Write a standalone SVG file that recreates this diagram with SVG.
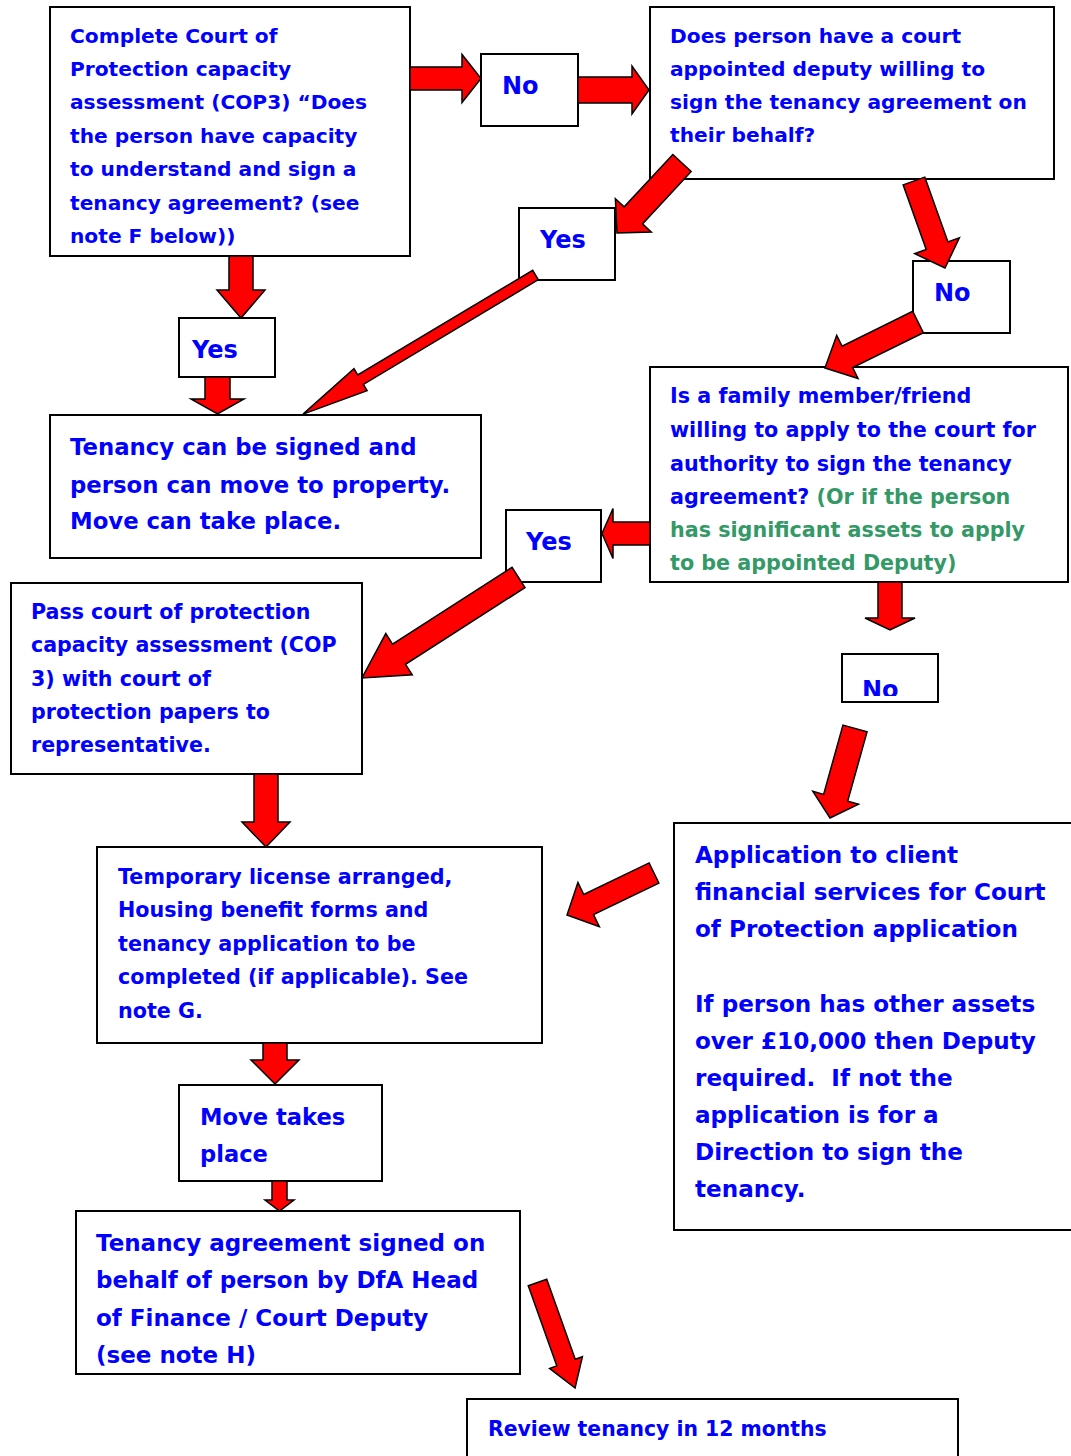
<svg xmlns="http://www.w3.org/2000/svg" width="1071" height="1456" viewBox="0 0 1071 1456">
  <style>
    .box { fill: #ffffff; stroke: #000000; stroke-width: 2; }
    .t { font-family: "DejaVu Sans", "Liberation Sans", sans-serif; font-weight: bold; fill: #0000ff; white-space: pre; }
    .g { fill: #339966; }
    .sA { font-size: 20.2px; }
    .sD { font-size: 20.7px; }
    .sE { font-size: 20.6px; }
    .sG { font-size: 20.7px; }
    .sC { font-size: 22.8px; }
    .sF { font-size: 23.1px; }
    .sI { font-size: 23px; }
    .sH { font-size: 22.6px; }
    .sJ { font-size: 20.4px; }
    .s24 { font-size: 24px; }
    .arr { fill: #ff0000; stroke: #000000; stroke-width: 1.5; stroke-linejoin: miter; }
  </style>
  <defs>
    <clipPath id="clipD"><rect x="650" y="367" width="420" height="207"/></clipPath>
    <clipPath id="clipNo3"><rect x="842" y="654" width="96" height="42"/></clipPath>
  </defs>
  <rect width="1071" height="1456" fill="#ffffff"/>

  <!-- capacity assessment -->
  <g id="capacity-assessment">
    <rect class="box" x="50" y="7" width="360" height="249"/>
    <text class="t sA">
      <tspan x="70" y="43">Complete Court of</tspan>
      <tspan x="70" y="76">Protection capacity</tspan>
      <tspan x="70" y="109">assessment (COP3) “Does</tspan>
      <tspan x="70" y="143">the person have capacity</tspan>
      <tspan x="70" y="176">to understand and sign a</tspan>
      <tspan x="70" y="210">tenancy agreement? (see</tspan>
      <tspan x="70" y="243">note F below))</tspan>
    </text>
  </g>

  <g id="no-capacity">
    <rect class="box" x="481" y="54" width="97" height="72"/>
    <text class="t s24" x="502" y="94">No</text>
  </g>

  <g id="court-deputy">
    <rect class="box" x="650" y="7" width="404" height="172"/>
    <text class="t sA">
      <tspan x="670" y="43">Does person have a court</tspan>
      <tspan x="670" y="76">appointed deputy willing to</tspan>
      <tspan x="670" y="109">sign the tenancy agreement on</tspan>
      <tspan x="670" y="142">their behalf?</tspan>
    </text>
  </g>

  <g id="yes-deputy">
    <rect class="box" x="519" y="208" width="96" height="72"/>
    <text class="t s24" x="540" y="248">Yes</text>
  </g>

  <g id="no-deputy">
    <rect class="box" x="913" y="261" width="97" height="72"/>
    <text class="t s24" x="934" y="301">No</text>
  </g>

  <g id="yes-capacity">
    <rect class="box" x="179" y="318" width="96" height="59"/>
    <text class="t s24" x="192" y="358">Yes</text>
  </g>

  <g id="tenancy-signed">
    <rect class="box" x="50" y="415" width="431" height="143"/>
    <text class="t sC">
      <tspan x="70" y="455">Tenancy can be signed and</tspan>
      <tspan x="70" y="493">person can move to property.</tspan>
      <tspan x="70" y="529">Move can take place.</tspan>
    </text>
  </g>

  <g id="family-member">
    <rect class="box" x="650" y="367" width="418" height="215"/>
    <text class="t sD" clip-path="url(#clipD)">
      <tspan x="670" y="403">Is a family member/friend</tspan>
      <tspan x="670" y="437">willing to apply to the court for</tspan>
      <tspan x="670" y="471">authority to sign the tenancy</tspan>
      <tspan x="670" y="504">agreement? <tspan class="g">(Or if the person</tspan></tspan>
      <tspan class="g" x="670" y="537">has significant assets to apply</tspan>
      <tspan class="g" x="670" y="570">to be appointed Deputy)</tspan>
    </text>
  </g>

  <g id="yes-family">
    <rect class="box" x="506" y="510" width="95" height="72"/>
    <text class="t s24" x="526" y="550">Yes</text>
  </g>

  <g id="pass-assessment">
    <rect class="box" x="11" y="583" width="351" height="191"/>
    <text class="t sE">
      <tspan x="31" y="619">Pass court of protection</tspan>
      <tspan x="31" y="652">capacity assessment (COP</tspan>
      <tspan x="31" y="686">3) with court of</tspan>
      <tspan x="31" y="719">protection papers to</tspan>
      <tspan x="31" y="752">representative.</tspan>
    </text>
  </g>

  <g id="no-family">
    <rect class="box" x="842" y="654" width="96" height="48"/>
    <text class="t s24" x="862" y="698" clip-path="url(#clipNo3)">No</text>
  </g>

  <g id="client-financial-services">
    <path class="box" d="M1072,823 H674 V1230 H1072"/>
    <text class="t sF">
      <tspan x="695" y="863">Application to client</tspan>
      <tspan x="695" y="900">financial services for Court</tspan>
      <tspan x="695" y="937">of Protection application</tspan>
      <tspan x="695" y="1012">If person has other assets</tspan>
      <tspan x="695" y="1049">over £10,000 then Deputy</tspan>
      <tspan x="695" y="1086">required.  If not the</tspan>
      <tspan x="695" y="1123">application is for a</tspan>
      <tspan x="695" y="1160">Direction to sign the</tspan>
      <tspan x="695" y="1197">tenancy.</tspan>
    </text>
  </g>

  <g id="temporary-license">
    <rect class="box" x="97" y="847" width="445" height="196"/>
    <text class="t sG">
      <tspan x="118" y="884">Temporary license arranged,</tspan>
      <tspan x="118" y="917">Housing benefit forms and</tspan>
      <tspan x="118" y="951">tenancy application to be</tspan>
      <tspan x="118" y="984">completed (if applicable). See</tspan>
      <tspan x="118" y="1018">note G.</tspan>
    </text>
  </g>

  <g id="move-takes-place">
    <rect class="box" x="179" y="1085" width="203" height="96"/>
    <text class="t sH">
      <tspan x="200" y="1125">Move takes</tspan>
      <tspan x="200" y="1162">place</tspan>
    </text>
  </g>

  <g id="agreement-signed">
    <rect class="box" x="76" y="1211" width="444" height="163"/>
    <text class="t sI">
      <tspan x="96" y="1251">Tenancy agreement signed on</tspan>
      <tspan x="96" y="1288">behalf of person by DfA Head</tspan>
      <tspan x="96" y="1326">of Finance / Court Deputy</tspan>
      <tspan x="96" y="1363">(see note H)</tspan>
    </text>
  </g>

  <g id="review-tenancy">
    <path class="box" d="M467,1458 V1399 H958 V1458"/>
    <text class="t sJ" x="488" y="1436">Review tenancy in 12 months</text>
  </g>

  <!-- block arrows between steps -->
  <g id="connectors">
    <polygon class="arr" points="410,67 462,67 462,54.5 481,78.5 462,102.5 462,90 410,90"/>
    <polygon class="arr" points="578,77 632,77 632,66 649,90 632,114 632,103 578,103"/>
    <polygon class="arr" transform="translate(682,163) rotate(132.9)" points="0,-12.5 71.5,-12.5 71.5,-24.5 95.5,0 71.5,24.5 71.5,12.5 0,12.5"/>
    <polygon class="arr" transform="translate(914,181) rotate(70.4)" points="0,-11.5 68.7,-11.5 68.7,-23.7 92.4,0 68.7,23.7 68.7,11.5 0,11.5"/>
    <polygon class="arr" transform="translate(918,322) rotate(153.7)" points="0,-12 78.8,-12 78.8,-24 103.8,0 78.8,24 78.8,12 0,12"/>
    <polygon class="arr" transform="translate(535.5,275) rotate(149.1)" points="0,-5.5 203.9,-5.5 203.9,-12.75 270.9,0 203.9,12.75 203.9,5.5 0,5.5"/>
    <polygon class="arr" points="229,256 253,256 253,290 265,290 241,318 217,290 229,290"/>
    <polygon class="arr" points="205,377 230,377 230,399 244,399 217.5,414 191,399 205,399"/>
    <polygon class="arr" points="650,522 613,522 613,508.5 602,533.5 613,558.5 613,545 650,545"/>
    <polygon class="arr" transform="translate(518.5,577.5) rotate(147.3)" points="0,-12 142,-12 142,-24.5 186,0 142,24.5 142,12 0,12"/>
    <polygon class="arr" points="878,582 902,582 902,618 915,618 890,630 865,618 878,618"/>
    <polygon class="arr" transform="translate(855,728.5) rotate(105.6)" points="0,-12.5 71.9,-12.5 71.9,-23.7 92.9,0 71.9,23.7 71.9,12.5 0,12.5"/>
    <polygon class="arr" transform="translate(654,873) rotate(154.2)" points="0,-11.2 72.6,-11.2 72.6,-24.6 96.6,0 72.6,24.6 72.6,11.2 0,11.2"/>
    <polygon class="arr" points="254,774 278,774 278,822 290,822 266,847 242,822 254,822"/>
    <polygon class="arr" points="263,1043 287,1043 287,1060 299,1060 275,1084 251,1060 263,1060"/>
    <polygon class="arr" points="272,1181 287,1181 287,1200 294,1200 279.5,1211 265,1200 272,1200"/>
    <polygon class="arr" transform="translate(537.5,1282.5) rotate(70.4)" points="0,-9.8 85,-9.8 85,-17.4 112,0 85,17.4 85,9.8 0,9.8"/>
  </g>
</svg>
